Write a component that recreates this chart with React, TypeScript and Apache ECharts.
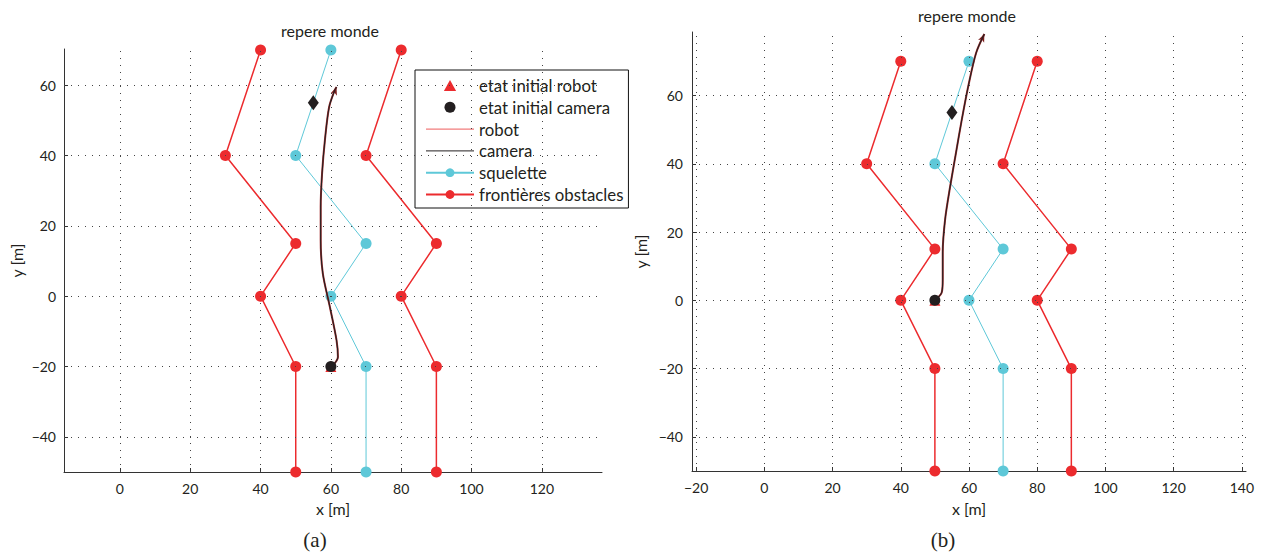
import React, { useEffect, useRef } from "react";
import * as echarts from "echarts";

// ---- data ----
const OBST_Y = [70, 40, 15, 0, -20, -50];
const OBST_LEFT_X = [40, 30, 50, 40, 50, 50];
const SKEL_X = [60, 50, 70, 60, 70, 70];
const OBST_RIGHT_X = [80, 70, 90, 80, 90, 90];

const TARGET = [55, 55];

const TRAJ_A_X = [60.3, 62, 61.6, 59.7, 57.7, 57.1, 57.1, 57.5, 58.3, 59.5, 61.1, 61.6];
const TRAJ_A_Y = [-20, -17.3, -12.5, -3, 6.5, 16, 25.4, 35, 44.4, 53.8, 58.6, 59.5];
const START_A = [60, -20];

const TRAJ_B_X = [50, 52, 52.3, 52.3, 53, 54.5, 56.2, 57.9, 59.8, 62.1, 64.5];
const TRAJ_B_Y = [0, 2.3, 6.2, 14, 23.7, 33.5, 43.3, 53, 62.8, 72.5, 78];
const START_B = [50, 0];

const X_TICKS_A = [0, 20, 40, 60, 80, 100, 120];
const X_TICKS_B = [-20, 0, 20, 40, 60, 80, 100, 120, 140];
const Y_TICKS = [-40, -20, 0, 20, 40, 60];

const LEGEND_NAMES = [
  "etat initial robot",
  "etat initial camera",
  "robot",
  "camera",
  "squelette",
  "frontières obstacles",
];

const RED = "#ec2b2e";
const CYAN = "#5ec8d8";
const PINK = "#f27d7d";
const DARK = "#231f20";
const FONT = "Lato";

const zip = (xs: number[], ys: number[]) => xs.map((x, i) => [x, ys[i]]);

function trajData(xs: number[], ys: number[], rot: number) {
  return xs.map((x, i) =>
    i === xs.length - 1
      ? { value: [x, ys[i]], symbol: "arrow", symbolSize: [5, 8], symbolRotate: rot }
      : { value: [x, ys[i]] }
  );
}

const fmt = (v: number) => String(v).replace("-", "\u2212");

function axes(i: number, xr: number[], yr: number[], xt: number[], xGap: number, yGap: number, yMargin: number) {
  const common = {
    type: "value",
    gridIndex: i,
    axisLine: { show: true, onZero: false, lineStyle: { color: "#333", width: 1 } },
    axisTick: { show: true, inside: true, length: 4, lineStyle: { color: "#333" } },
    splitLine: { show: false },
    nameTextStyle: { fontFamily: FONT, fontSize: 16, color: DARK },
  };
  return {
    x: {
      ...common,
      min: xr[0],
      max: xr[1],
      name: "x [m]",
      nameLocation: "middle",
      nameGap: xGap,
      axisTick: { ...common.axisTick, customValues: xt },
      axisLabel: { customValues: xt, formatter: fmt, margin: 9, fontFamily: FONT, fontSize: 14, color: DARK },
    },
    y: {
      ...common,
      min: yr[0],
      max: yr[1],
      name: "y [m]",
      nameLocation: "middle",
      nameRotate: 90,
      nameGap: yGap,
      axisTick: { ...common.axisTick, customValues: Y_TICKS },
      axisLabel: { customValues: Y_TICKS, formatter: fmt, margin: yMargin, fontFamily: FONT, fontSize: 14, color: DARK },
    },
  };
}

function seriesFor(i: number, xt: number[], tx: number[], ty: number[], start: number[], rot: number) {
  const base = { xAxisIndex: i, yAxisIndex: i };
  return [
    {
      ...base,
      type: "line",
      name: "grid" + i,
      data: [],
      silent: true,
      z: 1,
      markLine: {
        silent: true,
        symbol: "none",
        label: { show: false },
        lineStyle: { color: "#444", width: 1, type: [1, 6] },
        data: [...xt.map((v) => ({ xAxis: v })), ...Y_TICKS.map((v) => ({ yAxis: v }))],
      },
    },
    {
      ...base,
      type: "line",
      name: "frontières obstacles",
      data: zip(OBST_LEFT_X, OBST_Y),
      color: RED,
      symbol: "circle",
      symbolSize: 11,
      lineStyle: { width: 1.5, color: RED },
      itemStyle: { color: RED },
      z: 2,
    },
    {
      ...base,
      type: "line",
      name: "frontières obstacles",
      data: zip(OBST_RIGHT_X, OBST_Y),
      color: RED,
      symbol: "circle",
      symbolSize: 11,
      lineStyle: { width: 1.5, color: RED },
      itemStyle: { color: RED },
      z: 2,
    },
    {
      ...base,
      type: "line",
      name: "squelette",
      data: zip(SKEL_X, OBST_Y),
      color: CYAN,
      symbol: "circle",
      symbolSize: 11,
      lineStyle: { width: 1, color: CYAN },
      itemStyle: { color: CYAN },
      z: 3,
    },
    {
      ...base,
      type: "line",
      name: "robot",
      data: trajData(tx, ty, rot),
      color: PINK,
      symbol: "none",
      showSymbol: true,
      smooth: 0.3,
      lineStyle: { width: 2, color: "#a83232" },
      itemStyle: { color: "#7a1f1f" },
      z: 4,
    },
    {
      ...base,
      type: "line",
      name: "camera",
      data: zip(tx, ty),
      color: DARK,
      symbol: "none",
      smooth: 0.3,
      lineStyle: { width: 1.1, color: DARK },
      z: 5,
    },
    {
      ...base,
      type: "scatter",
      name: "cible",
      data: [TARGET],
      symbol: "diamond",
      symbolSize: [11, 15],
      itemStyle: { color: DARK, opacity: 1 },
      z: 6,
    },
    {
      ...base,
      type: "scatter",
      name: "etat initial robot",
      data: [start],
      symbol: "triangle",
      symbolSize: 11,
      color: RED,
      itemStyle: { color: RED, opacity: 1 },
      z: 6,
    },
    {
      ...base,
      type: "scatter",
      name: "etat initial camera",
      data: [start],
      symbol: "circle",
      symbolSize: 11,
      color: DARK,
      itemStyle: { color: DARK, opacity: 1 },
      z: 7,
    },
  ];
}

export default function App() {
  const ref = useRef<HTMLDivElement>(null);
  useEffect(() => {
    if (!ref.current) return;
    const chart = echarts.init(ref.current, null, { renderer: "svg" });
    const a = axes(0, [-15.9, 137.1], [-50, 70.3], X_TICKS_A, 28, 40, 8);
    const b = axes(1, [-21.2, 141.2], [-50, 78.6], X_TICKS_B, 29, 44, 9);
    const legendData = [
      { name: LEGEND_NAMES[0], icon: "path://M5,0 L10,9 L0,9 Z", itemStyle: { color: RED, opacity: 1 } },
      { name: LEGEND_NAMES[1], icon: "circle", itemStyle: { color: DARK, opacity: 1 } },
      { name: LEGEND_NAMES[2], itemStyle: { opacity: 0 }, lineStyle: { color: PINK, width: 1.2 } },
      { name: LEGEND_NAMES[3], itemStyle: { opacity: 0 }, lineStyle: { color: DARK, width: 1 } },
      { name: LEGEND_NAMES[4] },
      { name: LEGEND_NAMES[5] },
    ];
    chart.setOption({
      animation: false,
      textStyle: { fontFamily: FONT, color: DARK },
      grid: [
        { left: 64, top: 49, width: 538, height: 423 },
        { left: 692, top: 32, width: 554, height: 439 },
      ],
      xAxis: [a.x, b.x],
      yAxis: [a.y, b.y],
      legend: {
        data: legendData,
        orient: "vertical",
        left: 415,
        top: 70,
        itemWidth: 48,
        itemHeight: 11,
        itemGap: 4.8,
        padding: [7, 5, 5, 10],
        backgroundColor: "#fff",
        borderColor: "#111",
        borderWidth: 1,
        borderRadius: 0,
        selectedMode: false,
        symbolKeepAspect: true,
        textStyle: { fontFamily: FONT, fontSize: 16.8, color: DARK },
      },
      graphic: [
        { type: "text", x: 330, y: 30, style: { text: "repere monde", textAlign: "center", textVerticalAlign: "middle", font: `16px ${FONT}`, fill: DARK } },
        { type: "text", x: 967, y: 15, style: { text: "repere monde", textAlign: "center", textVerticalAlign: "middle", font: `16px ${FONT}`, fill: DARK } },
        { type: "text", x: 315, y: 540, style: { text: "(a)", textAlign: "center", textVerticalAlign: "middle", font: `21px "Liberation Serif"`, fill: DARK } },
        { type: "text", x: 943, y: 540, style: { text: "(b)", textAlign: "center", textVerticalAlign: "middle", font: `21px "Liberation Serif"`, fill: DARK } },
      ],
      series: [
        ...seriesFor(0, X_TICKS_A, TRAJ_A_X, TRAJ_A_Y, START_A, -20),
        ...seriesFor(1, X_TICKS_B, TRAJ_B_X, TRAJ_B_Y, START_B, -24),
      ],
    });
    return () => chart.dispose();
  }, []);
  return (
    <div
      ref={ref}
      style={{ position: "absolute", left: 0, top: 0, width: 1263, height: 557, background: "#fff" }}
    />
  );
}
